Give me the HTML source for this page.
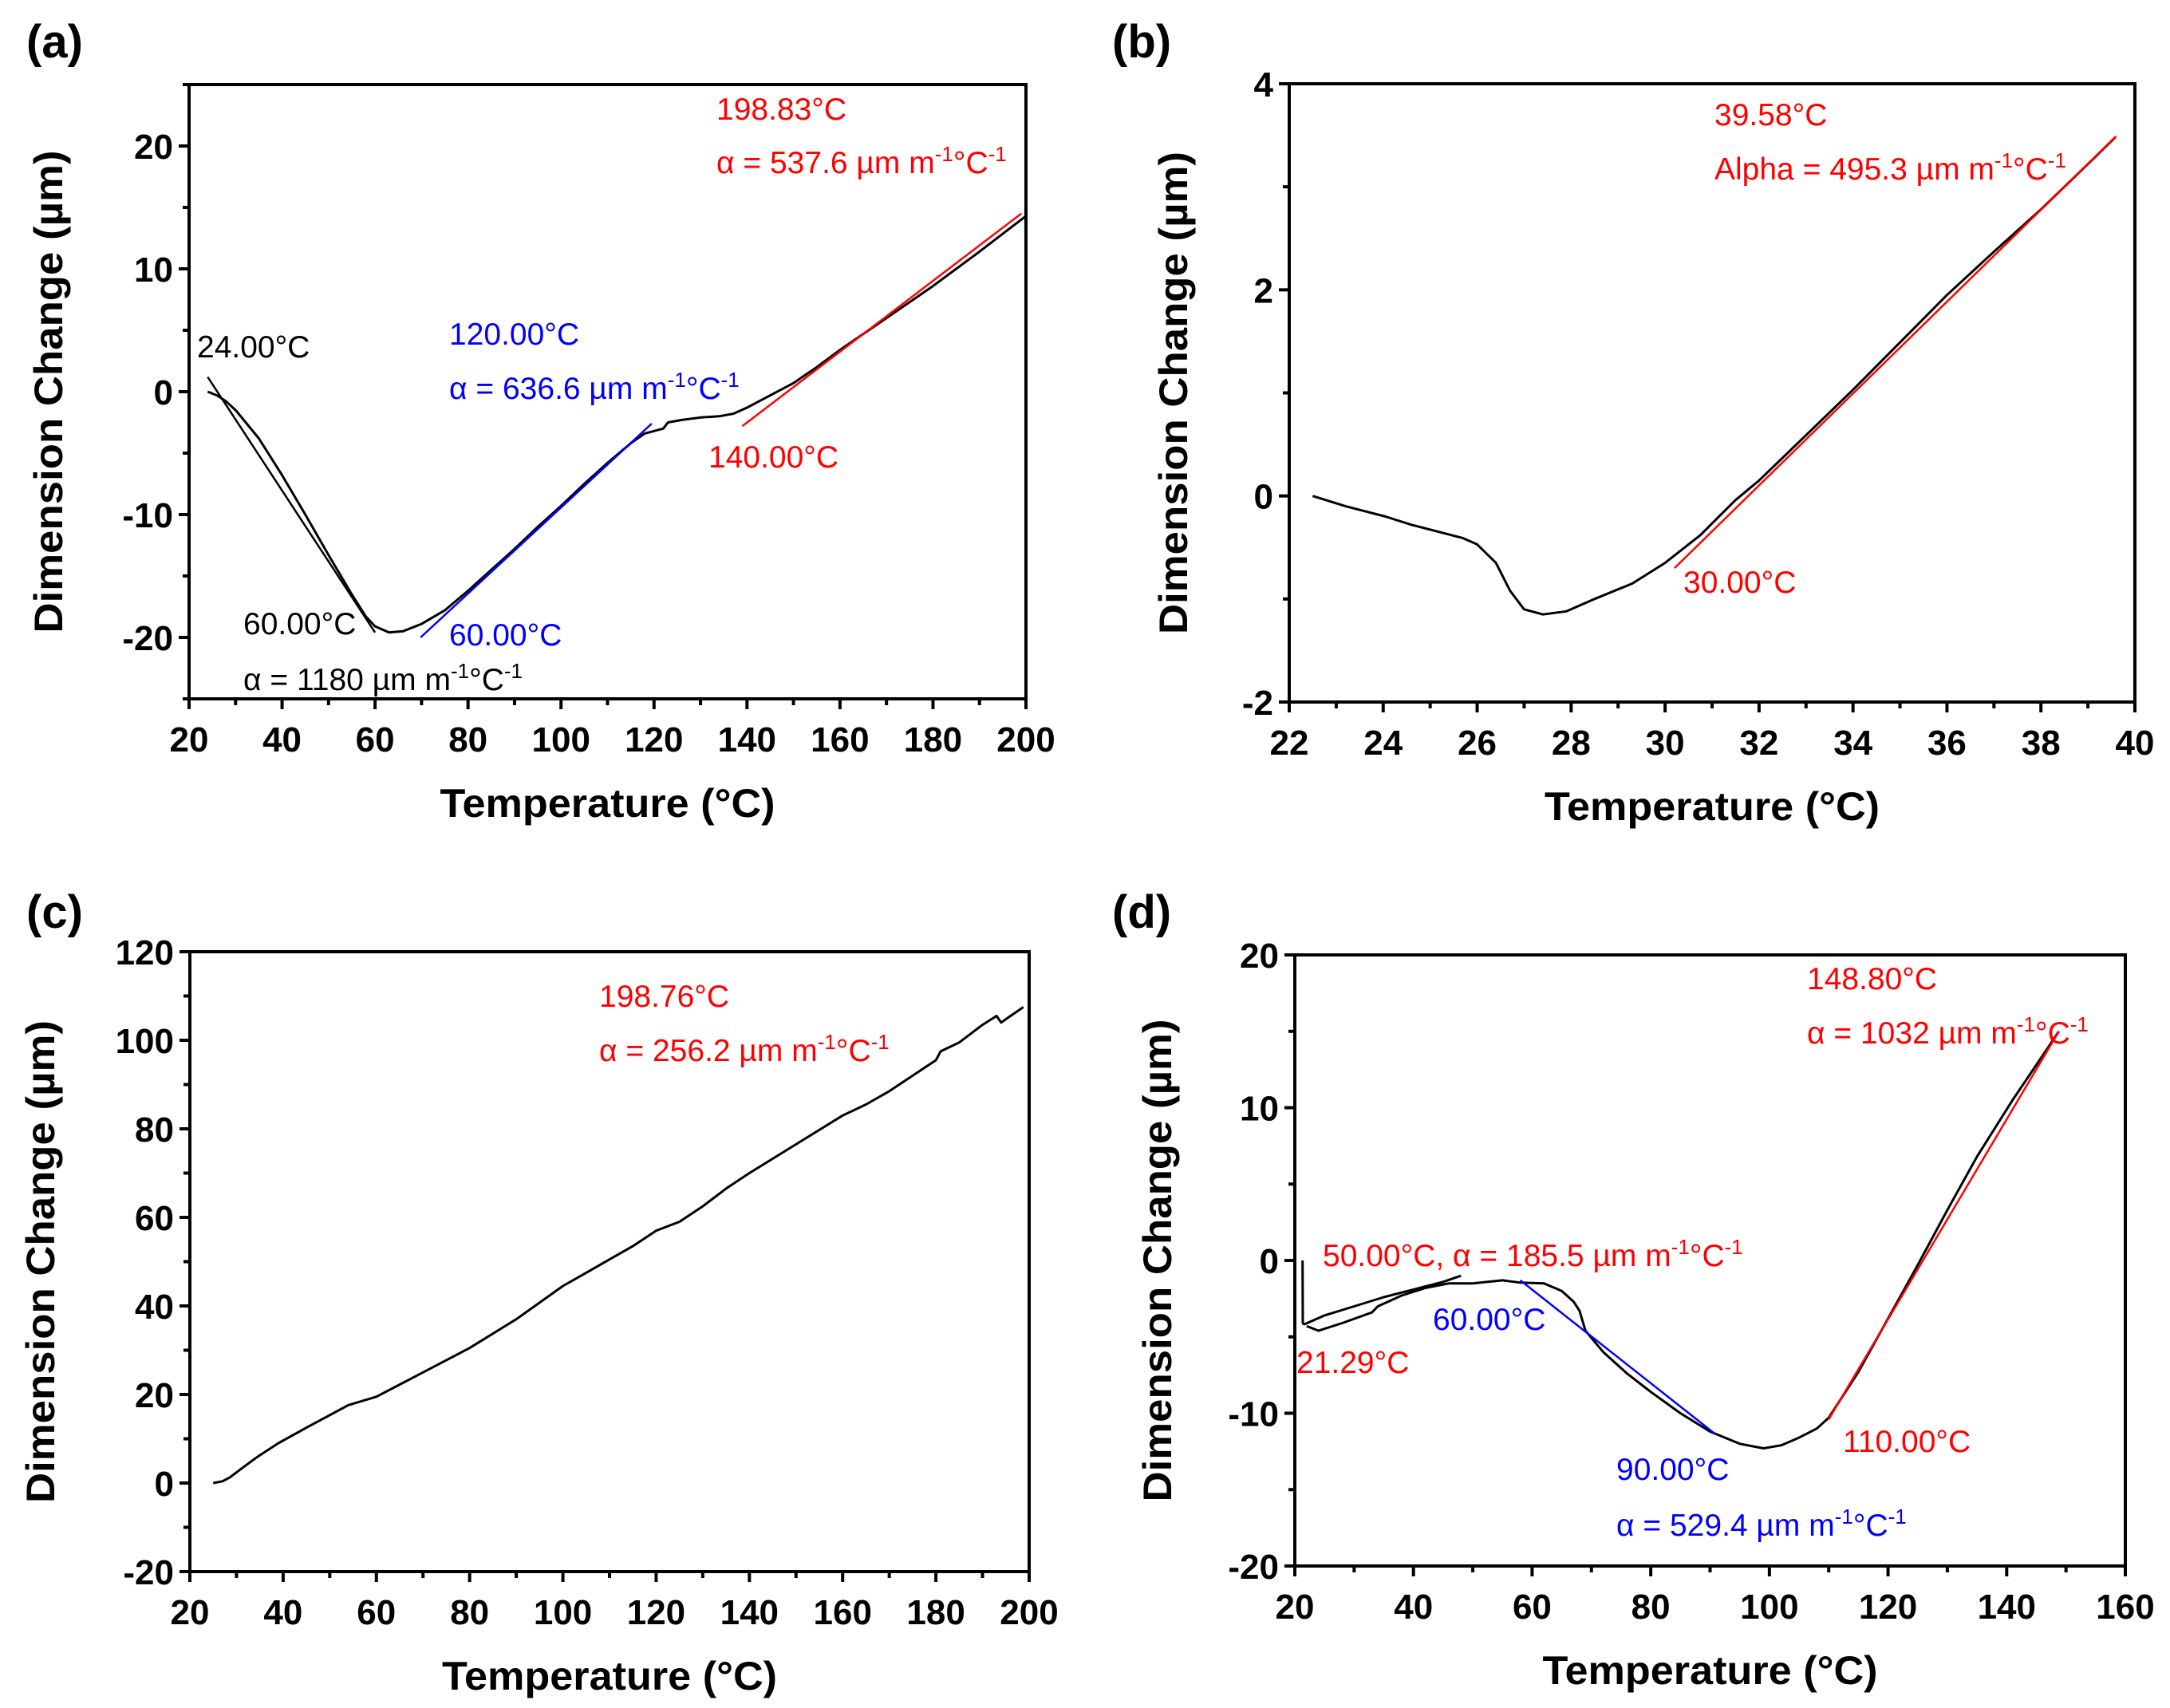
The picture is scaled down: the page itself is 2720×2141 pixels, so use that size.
<!DOCTYPE html>
<html><head><meta charset="utf-8"><style>
html,body{margin:0;padding:0;background:#fff;}
svg{display:block;}
text{font-family:"Liberation Sans",Arial,sans-serif;}
</style></head>
<body>
<svg id="fig" xmlns="http://www.w3.org/2000/svg" width="2720" height="2141" viewBox="0 0 2720 2141"></svg>
<script>
// ---------- Panel (a) data ----------
const aCurveX = [24,26,28,30,35,40,45,50,55,58,60,63,66,70,75,80,85,90,95,100,105,110,115,118,120,122,123,126,130,134,137,140,145,150,155,160,170,180,190,200];
const aCurveY = [0,-0.3,-0.8,-1.5,-3.8,-6.8,-10,-13.3,-16.5,-18.3,-19.1,-19.6,-19.5,-18.9,-17.8,-16.2,-14.5,-12.8,-11,-9.3,-7.5,-5.8,-4.2,-3.4,-3.2,-3.0,-2.5,-2.3,-2.1,-2.0,-1.8,-1.3,-0.3,0.7,2.0,3.4,6.0,8.6,11.4,14.3];
const aBlackTanX = [24,60];
const aBlackTanY = [1.2,-19.6];
const aBlueTanX = [69.8,119.5];
const aBlueTanY = [-20,-2.6];
const aRedTanX = [139,199];
const aRedTanY = [-2.8,14.5];
const aXTicks = [20,40,60,80,100,120,140,160,180,200];
const aYTicks = [-20,-10,0,10,20];
// ---------- Panel (b) data ----------
const bCurveX = [22.5,23.2,24.05,24.6,25.2,25.7,26,26.4,26.7,27,27.4,27.9,28.5,29.3,30,30.75,31.5,32,33,34,35,36,37,38,39,39.58];
const bCurveY = [0,-0.1,-0.2,-0.28,-0.35,-0.41,-0.47,-0.65,-0.92,-1.1,-1.15,-1.12,-1.0,-0.85,-0.65,-0.38,-0.04,0.15,0.59,1.03,1.49,1.95,2.37,2.78,3.22,3.48];
const bRedTanX = [30.2,39.6];
const bRedTanY = [-0.7,3.49];
const bXTicks = [22,24,26,28,30,32,34,36,38,40];
const bYTicks = [-2,0,2,4];
// ---------- Panel (c) data ----------
const cCurveX = [25,27,28.6,31,34.6,39,45,54,60,70,80,90,100,105,110,115,120,125,130,135,140,150,160,165,170,175,180,181,185,190,193,194,196,198.76];
const cCurveY = [0,0.4,1.3,3.2,6,9,12.5,17.6,19.5,25,30.5,37,44.5,47.5,50.5,53.5,57,59,62.5,66.5,70,76.5,83,85.5,88.5,92,95.5,97.5,99.5,103.5,105.5,104,105.5,107.5];
const cXTicks = [20,40,60,80,100,120,140,160,180,200];
const cYTicks = [-20,0,20,40,60,80,100,120];
// ---------- Panel (d) data ----------
const dSpikeX = [21.3,21.35,21.5];
const dSpikeY = [0,-4.1,-4.2];
const dCurve1X = [21.5,25,30,35,40,45,48];
const dCurve1Y = [-4.2,-3.6,-3.0,-2.4,-1.9,-1.4,-1.0];
const dCurve2X = [22,24,28,33,34,38,42,46,50,55,58,62,65,67,68,69,72,76,80,85,90,95,99,102,105,108,110,115,120,125,130,135,141,145,148.8];
const dCurve2Y = [-4.3,-4.6,-4.1,-3.4,-3.0,-2.3,-1.8,-1.5,-1.5,-1.3,-1.45,-1.5,-2.0,-2.7,-3.3,-4.6,-6.0,-7.4,-8.6,-10,-11.2,-12,-12.3,-12.1,-11.6,-11,-10.3,-7.3,-3.8,-0.3,3.3,6.8,10.5,12.8,15];
const dBlueTanX = [58,91];
const dBlueTanY = [-1.3,-11.4];
const dRedTanX = [110,148.8];
const dRedTanY = [-10.4,15];
const dXTicks = [20,40,60,80,100,120,140,160];
const dYTicks = [-20,-10,0,10,20];

const NS = "http://www.w3.org/2000/svg";
const svg = document.getElementById('fig');
function mk(tag, attrs, parent){
  const e = document.createElementNS(NS, tag);
  for (const k in attrs) e.setAttribute(k, attrs[k]);
  (parent||svg).appendChild(e);
  return e;
}
function makeScale(d0,d1,p0,p1){ return v => p0 + (v-d0)/(d1-d0)*(p1-p0); }

function axes(g, P, xTicks, yTicks, xMinorStep, yMinorStep){
  const sx = P.sx, sy = P.sy;
  const box = mk('rect',{x:P.x0,y:P.y0,width:P.x1-P.x0,height:P.y1-P.y0,fill:'none',stroke:'#000','stroke-width':4},g);
  
  
  for (let v = P.xd[0]; v <= P.xd[1]+1e-9; v += xMinorStep){
    const major = xTicks.some(t=>Math.abs(t-v)<1e-9);
    const t = mk('line',{x1:sx(v),x2:sx(v),y1:P.y1,y2:P.y1+(major?13:8),stroke:'#000','stroke-width':4},g);
    
    
  }
  for (let v = P.yd[0]; v <= P.yd[1]+1e-9; v += yMinorStep){
    const major = yTicks.some(t=>Math.abs(t-v)<1e-9);
    const t = mk('line',{x1:P.x0,x2:P.x0-(major?13:8),y1:sy(v),y2:sy(v),stroke:'#000','stroke-width':4},g);
    
    
  }
  xTicks.forEach(v=>{
    const t = mk('text',{x:sx(v),y:P.y1+66,'text-anchor':'middle','font-size':44,'font-weight':'bold'},g);
    t.textContent = v;
    
    
  });
  yTicks.forEach(v=>{
    const t = mk('text',{x:P.x0-20,y:sy(v)+16,'text-anchor':'end','font-size':44,'font-weight':'bold'},g);
    t.textContent = v;
    
    
  });
  const xt = mk('text',{x:(P.x0+P.x1)/2,y:P.y1+148,'text-anchor':'middle','font-size':50,'font-weight':'bold',textLength:420,lengthAdjust:'spacingAndGlyphs'},g);
  xt.textContent = 'Temperature (°C)';
  
  
  const cy = (P.y0+P.y1)/2;
  const yt = mk('text',{x:0,y:0,'text-anchor':'middle','font-size':50,'font-weight':'bold',textLength:605,lengthAdjust:'spacingAndGlyphs',transform:`translate(${P.ytx},${cy}) rotate(-90)`},g);
  yt.textContent = 'Dimension Change (µm)';
  
  
  const pl = mk('text',{x:P.lx,y:P.ly,'font-size':58,'font-weight':'bold','font-family':'"DejaVu Sans",sans-serif'},g);
  pl.textContent = P.label;
  
  
}
function series(g, P, xs, ys, color, w, name){
  let d = '';
  xs.forEach((x,i)=>{ d += (i?'L':'M') + P.sx(x).toFixed(1) + ' ' + P.sy(ys[i]).toFixed(1); });
  const p = mk('path',{d:d,fill:'none',stroke:color,'stroke-width':w,'stroke-linejoin':'round'},g);
  
  
}
function note(g, x, y, color, parts, name){
  const t = mk('text',{x:x,y:y,fill:color,'font-size':39},g);
  parts.forEach(pt=>{
    const a = {};
    if (pt[1]) a.dy = pt[1];
    if (pt[2]) a['font-size'] = pt[2];
    const s = mk('tspan', a, t);
    s.textContent = pt[0];
  });
  
  
}
function alphaParts(prefix, val){
  return [[prefix+' = '+val+' µm m'],['-1',-15,26],['°C',15,39],['-1',-15,26]];
}
function panel(cfg){
  const g = mk('g',{});
  
  
  cfg.sx = makeScale(cfg.xd[0],cfg.xd[1],cfg.x0,cfg.x1);
  cfg.sy = makeScale(cfg.yd[0],cfg.yd[1],cfg.y1,cfg.y0);
  return g;
}

// ---- (a)
const PA = {name:'panel-a',x0:237,x1:1286,y0:106,y1:876,xd:[20,200],yd:[-25,25],ytx:78,lx:33,ly:72,label:'(a)'};
const ga = panel(PA);
axes(ga, PA, aXTicks, aYTicks, 10, 5);
series(ga, PA, aCurveX, aCurveY, '#000', 3, 'dimension-curve');
series(ga, PA, aBlackTanX, aBlackTanY, '#000', 2.5, 'tangent-24-60');
series(ga, PA, aBlueTanX, aBlueTanY, '#0000ff', 2.5, 'tangent-60-120');
series(ga, PA, aRedTanX, aRedTanY, '#ff0000', 2.5, 'tangent-140-199');
note(ga, 898, 150, '#ff0000', [['198.83°C']], 'annotation-198-83');
note(ga, 898, 217, '#ff0000', alphaParts('α','537.6'), 'annotation-alpha-537');
note(ga, 247, 448, '#000', [['24.00°C']], 'annotation-24');
note(ga, 563, 432, '#0000ff', [['120.00°C']], 'annotation-120');
note(ga, 563, 500, '#0000ff', alphaParts('α','636.6'), 'annotation-alpha-636');
note(ga, 888, 586, '#ff0000', [['140.00°C']], 'annotation-140');
note(ga, 305, 795, '#000', [['60.00°C']], 'annotation-60-black');
note(ga, 305, 865, '#000', alphaParts('α','1180'), 'annotation-alpha-1180');
note(ga, 563, 809, '#0000ff', [['60.00°C']], 'annotation-60-blue');

// ---- (b)
const PB = {name:'panel-b',x0:1616,x1:2676,y0:105,y1:880,xd:[22,40],yd:[-2,4],ytx:1488,lx:1394,ly:72,label:'(b)'};
const gb = panel(PB);
axes(gb, PB, bXTicks, bYTicks, 1, 1);
series(gb, PB, bCurveX, bCurveY, '#000', 3, 'dimension-curve');
series(gb, PB, bRedTanX, bRedTanY, '#ff0000', 2.5, 'tangent-30-39');
note(gb, 2149, 157, '#ff0000', [['39.58°C']], 'annotation-39-58');
note(gb, 2149, 225, '#ff0000', alphaParts('Alpha','495.3'), 'annotation-alpha-495');
note(gb, 2110, 743, '#ff0000', [['30.00°C']], 'annotation-30');

// ---- (c)
const PC = {name:'panel-c',x0:238,x1:1290,y0:1193,y1:1970,xd:[20,200],yd:[-20,120],ytx:68,lx:33,ly:1163,label:'(c)'};
const gc = panel(PC);
axes(gc, PC, cXTicks, cYTicks, 10, 10);
series(gc, PC, cCurveX, cCurveY, '#000', 3, 'dimension-curve');
note(gc, 751, 1262, '#ff0000', [['198.76°C']], 'annotation-198-76');
note(gc, 751, 1330, '#ff0000', alphaParts('α','256.2'), 'annotation-alpha-256');

// ---- (d)
const PD = {name:'panel-d',x0:1623,x1:2664,y0:1197,y1:1963,xd:[20,160],yd:[-20,20],ytx:1468,lx:1394,ly:1163,label:'(d)'};
const gd = panel(PD);
axes(gd, PD, dXTicks, dYTicks, 10, 5);
series(gd, PD, dSpikeX, dSpikeY, '#000', 3, 'initial-spike');
series(gd, PD, dCurve1X, dCurve1Y, '#000', 3, 'dimension-curve-upper');
series(gd, PD, dCurve2X, dCurve2Y, '#000', 3, 'dimension-curve');
series(gd, PD, dBlueTanX, dBlueTanY, '#0000ff', 2.5, 'tangent-60-90');
series(gd, PD, dRedTanX, dRedTanY, '#ff0000', 2.5, 'tangent-110-148');
note(gd, 2265, 1240, '#ff0000', [['148.80°C']], 'annotation-148-80');
note(gd, 2265, 1308, '#ff0000', alphaParts('α','1032'), 'annotation-alpha-1032');
note(gd, 1658, 1587, '#ff0000', alphaParts('50.00°C, α','185.5'), 'annotation-50-alpha-185');
note(gd, 1796, 1667, '#0000ff', [['60.00°C']], 'annotation-60-blue');
note(gd, 1625, 1721, '#ff0000', [['21.29°C']], 'annotation-21-29');
note(gd, 2310, 1820, '#ff0000', [['110.00°C']], 'annotation-110');
note(gd, 2026, 1855, '#0000ff', [['90.00°C']], 'annotation-90');
note(gd, 2026, 1925, '#0000ff', alphaParts('α','529.4'), 'annotation-alpha-529');
</script>
</body></html>
